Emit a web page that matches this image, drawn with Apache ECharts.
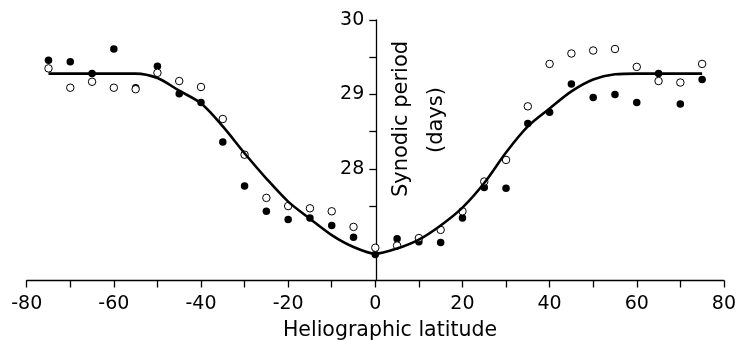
<!DOCTYPE html>
<html>
<head>
<meta charset="utf-8">
<script src="https://cdn.jsdelivr.net/npm/echarts@6/dist/echarts.min.js"></script>
<style>
  html, body { margin: 0; padding: 0; background: #fff; }
  #chart { width: 739px; height: 340px; }
</style>
</head>
<body>
<div id="chart"></div>
<script>
  const latitudes = [-75, -70, -65, -60, -55, -50, -45, -40, -35, -30, -25, -20, -15, -10, -5, 0,
    5, 10, 15, 20, 25, 30, 35, 40, 45, 50, 55, 60, 65, 70, 75]
  const filledPeriod = [29.46, 29.44, 29.28, 29.61, 29.09, 29.38, 29.01, 28.89, 28.36, 27.77, 27.43,
    27.32, 27.34, 27.24, 27.08, 26.85, 27.06, 27.02, 27.01, 27.34, 27.75, 27.74, 28.61, 28.76, 29.14,
    28.96, 29.0, 28.89, 29.28, 28.87, 29.2]
  const openPeriod = [29.35, 29.09, 29.17, 29.09, 29.07, 29.29, 29.18, 29.1, 28.67, 28.19, 27.61,
    27.5, 27.47, 27.43, 27.22, 26.94, 26.97, 27.07, 27.18, 27.43, 27.83, 28.12, 28.84, 29.41, 29.55,
    29.59, 29.61, 29.37, 29.18, 29.16, 29.41]
  const fitPeriod = [29.28, 29.28, 29.28, 29.28, 29.28, 29.22, 29.05, 28.88, 28.57, 28.21, 27.87,
    27.56, 27.33, 27.11, 26.95, 26.86, 26.93, 27.05, 27.24, 27.48, 27.81, 28.22, 28.57, 28.81, 29.04,
    29.2, 29.27, 29.28, 29.28, 29.28, 29.28]
  const yTickValues = [27.5, 28, 28.5, 29, 29.5, 30]
  const yLabelValues = [28, 29, 30]

  const font = 'DejaVu Sans'
  const pairs = (ys) => latitudes.map((x, i) => [x, ys[i]])

  const chart = echarts.init(document.getElementById('chart'))

  const option = {
    animation: false,
    backgroundColor: '#fff',
    grid: { left: 26.7, right: 13.7, top: 20, bottom: 59.5 },
    xAxis: {
      type: 'value',
      min: -80,
      max: 80,
      interval: 10,
      splitLine: { show: false },
      axisLine: { onZero: false, lineStyle: { color: '#000', width: 1.3 } },
      axisTick: { length: 7, lineStyle: { color: '#000', width: 1.3 } },
      axisLabel: {
        margin: 14,
        color: '#000',
        fontFamily: font,
        fontSize: 19,
        formatter: v => (v % 20 === 0 ? String(v) : '')
      }
    },
    yAxis: {
      type: 'value',
      position: 'left',
      // sits on lat 0, half way across the plot
      offset: -349.6,
      min: 26.5,
      max: 30,
      splitLine: { show: false },
      axisLine: { show: true, onZero: false, lineStyle: { color: '#000', width: 1.3 } },
      axisTick: { show: true, length: 7, customValues: yTickValues, lineStyle: { color: '#000', width: 1.3 } },
      axisLabel: {
        margin: 12,
        color: '#000',
        fontFamily: font,
        fontSize: 19,
        customValues: yLabelValues
      }
    },
    graphic: [
      {
        type: 'text',
        x: 402,
        y: 119,
        rotation: Math.PI / 2,
        style: {
          text: 'Synodic period',
          fill: '#000',
          font: '21px "DejaVu Sans"',
          textAlign: 'center',
          textVerticalAlign: 'middle'
        }
      },
      {
        type: 'text',
        x: 437,
        y: 120,
        rotation: Math.PI / 2,
        style: {
          text: '(days)',
          fill: '#000',
          font: '21px "DejaVu Sans"',
          textAlign: 'center',
          textVerticalAlign: 'middle'
        }
      },
      {
        type: 'text',
        x: 390,
        y: 331,
        style: {
          text: 'Heliographic latitude',
          fill: '#000',
          font: '20.5px "DejaVu Sans"',
          textAlign: 'center',
          textVerticalAlign: 'middle'
        }
      }
    ],
    series: [
      {
        name: 'fit',
        type: 'line',
        data: pairs(fitPeriod),
        smooth: 0.3,
        showSymbol: false,
        lineStyle: { color: '#000', width: 2.6 }
      },
      {
        name: 'filled',
        type: 'scatter',
        data: pairs(filledPeriod),
        symbol: 'circle',
        symbolSize: 7.5,
        itemStyle: { color: '#000', opacity: 1 }
      },
      {
        name: 'open',
        type: 'scatter',
        data: pairs(openPeriod),
        symbol: 'circle',
        symbolSize: 7.5,
        itemStyle: { color: '#fff', borderColor: '#000', borderWidth: 1, opacity: 1 }
      }
    ]
  }

  chart.setOption(option)
  window.addEventListener('resize', () => {
    chart.resize()
  })
</script>
</body>
</html>
